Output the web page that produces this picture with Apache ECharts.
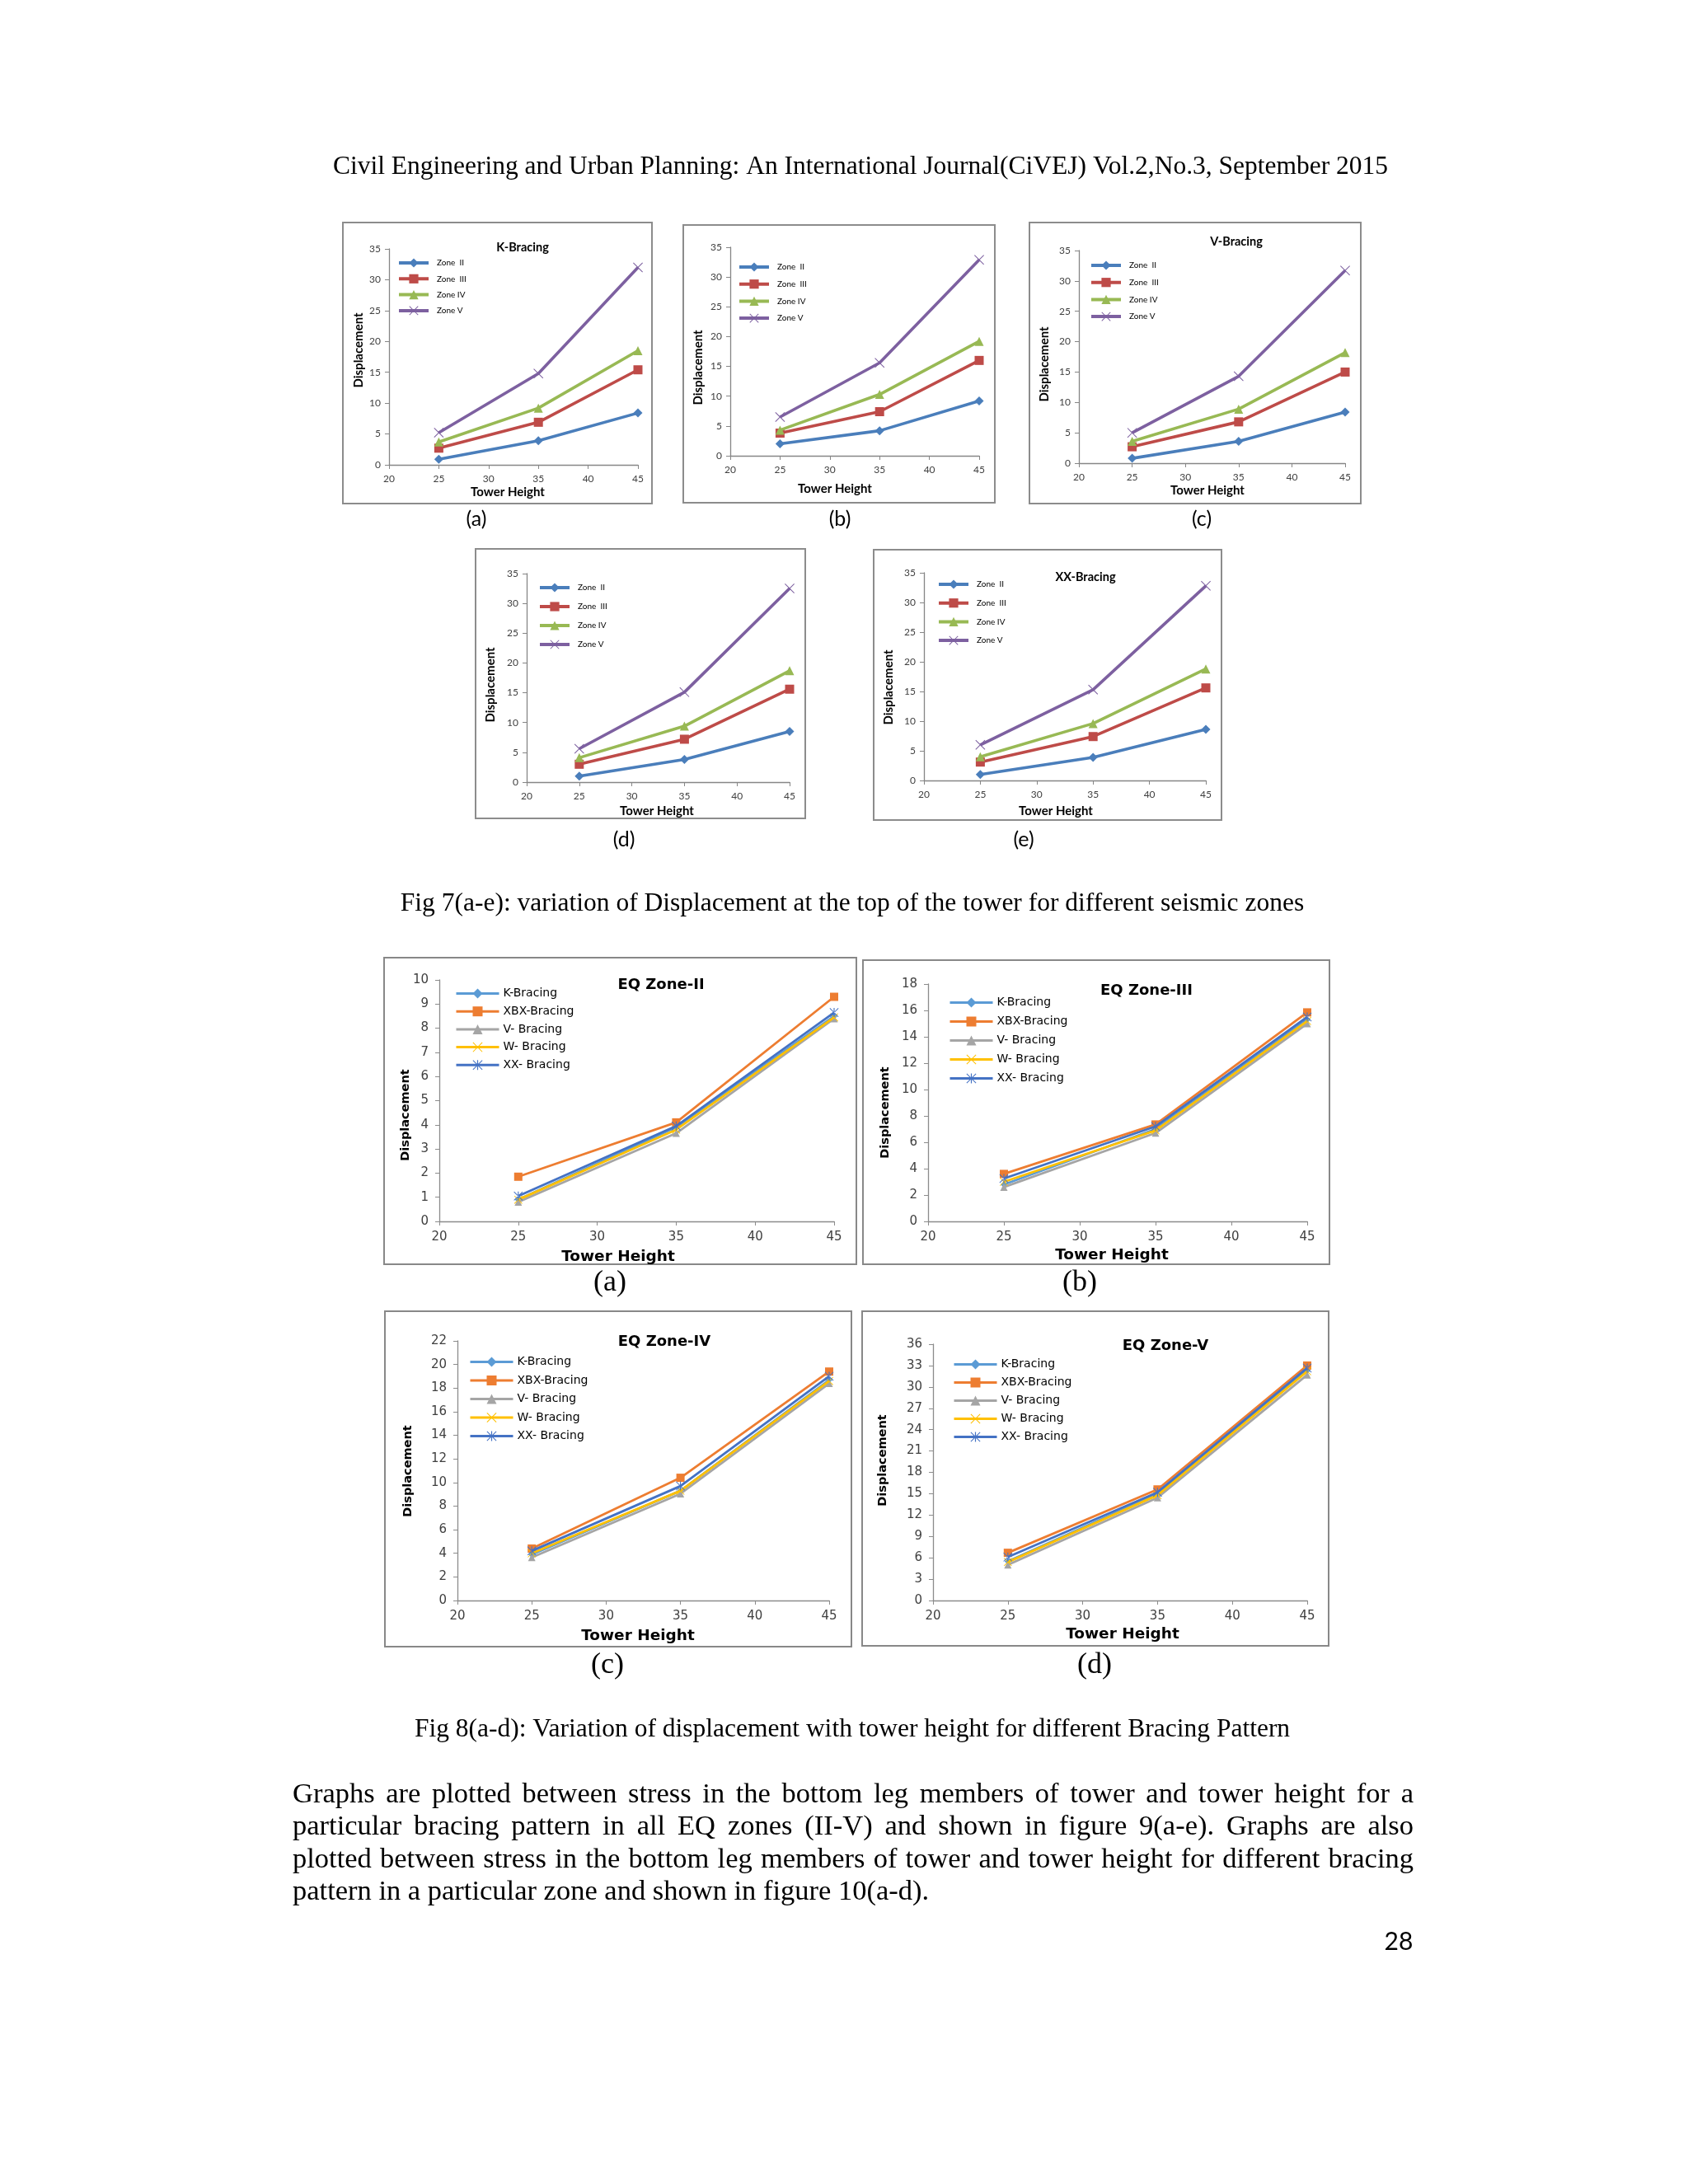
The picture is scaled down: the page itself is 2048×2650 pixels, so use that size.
<!DOCTYPE html>
<html>
<head>
<meta charset="utf-8">
<script src="https://cdn.jsdelivr.net/npm/echarts@6/dist/echarts.min.js"></script>
<style>
html,body{margin:0;padding:0;background:#fff;}
#chart{width:2048px;height:2650px;}
</style>
</head>
<body>
<div id="chart"></div>
<script>
// ---------------- DATA ----------------
const heights = [25, 35, 45];
const zoneNames = ['Zone  II', 'Zone  III', 'Zone IV', 'Zone V'];
const bracingNames = ['K-Bracing', 'XBX-Bracing', 'V- Bracing', 'W- Bracing', 'XX- Bracing'];

// Fig 7: rows = Zone II, III, IV, V ; values at heights 25, 35, 45
const fig7a = [[0.9, 3.9, 8.4], [2.7, 6.9, 15.4], [3.7, 9.2, 18.5], [5.2, 14.8, 32.0]];
const fig7b = [[2.0, 4.2, 9.2], [3.8, 7.4, 16.0], [4.3, 10.3, 19.2], [6.5, 15.6, 32.9]];
const fig7c = [[0.8, 3.6, 8.4], [2.7, 6.8, 15.0], [3.6, 8.9, 18.2], [5.0, 14.3, 31.7]];
const fig7d = [[1.0, 3.8, 8.5], [3.0, 7.2, 15.6], [4.1, 9.4, 18.7], [5.6, 15.1, 32.5]];
const fig7e = [[1.0, 3.9, 8.6], [3.1, 7.4, 15.6], [4.0, 9.6, 18.8], [6.0, 15.3, 32.8]];
const fig7Titles = ['K-Bracing', '', 'V-Bracing', '', 'XX-Bracing'];
const fig7Labels = ['(a)', '(b)', '(c)', '(d)', '(e)'];

// Fig 8: rows = K, XBX, V, W, XX bracing ; values at heights 25, 35, 45
const fig8a = [[0.9, 3.9, 8.5], [1.85, 4.1, 9.3], [0.8, 3.65, 8.4], [0.9, 3.8, 8.45], [1.05, 3.95, 8.65]];
const fig8b = [[2.8, 7.0, 15.3], [3.6, 7.35, 15.85], [2.6, 6.7, 15.0], [3.0, 6.9, 15.2], [3.25, 7.2, 15.5]];
const fig8c = [[3.9, 9.3, 18.7], [4.4, 10.4, 19.4], [3.65, 9.05, 18.4], [4.0, 9.3, 18.6], [4.2, 9.7, 19.0]];
const fig8d = [[5.5, 15.0, 32.3], [6.7, 15.6, 33.0], [5.0, 14.45, 31.7], [5.4, 14.8, 32.2], [6.1, 15.2, 32.65]];
const fig8Titles = ['EQ Zone-II', 'EQ Zone-III', 'EQ Zone-IV', 'EQ Zone-V'];
const fig8Labels = ['(a)', '(b)', '(c)', '(d)'];
const fig8YMax = [10, 18, 22, 36];
const fig8YStep = [1, 2, 2, 3];

const headerText = 'Civil Engineering and Urban Planning: An International Journal(CiVEJ) Vol.2,No.3, September 2015';
const caption7 = 'Fig 7(a-e): variation of Displacement at the top of the tower for different seismic zones';
const caption8 = 'Fig 8(a-d): Variation of displacement with tower height for different Bracing Pattern';
const paragraphLines = [
  'Graphs are plotted between stress in the bottom leg members of tower and tower height for a',
  'particular bracing pattern in all EQ zones (II-V) and shown in figure 9(a-e). Graphs are also',
  'plotted between stress in the bottom leg members of tower and tower height for different bracing',
  'pattern in a particular zone and shown in figure 10(a-d).'
];
const pageNumber = '28';

// ---------------- STYLE / LAYOUT ----------------
const X_PATH = 'path://M0.6,0 L5,4.4 L9.4,0 L10,0.6 L5.6,5 L10,9.4 L9.4,10 L5,5.6 L0.6,10 L0,9.4 L4.4,5 L0,0.6 Z';
const AST_PATH = 'path://M0.6,0 L5,4.4 L9.4,0 L10,0.6 L5.6,5 L10,9.4 L9.4,10 L5,5.6 L0.6,10 L0,9.4 L4.4,5 L0,0.6 Z M4.5,0 L4.5,10 L5.5,10 L5.5,0 Z';

const zoneStyles = [
  {color: '#4A7EBB', symbol: 'diamond', size: 11},
  {color: '#BE4B48', symbol: 'rect', size: 11},
  {color: '#98B954', symbol: 'triangle', size: 11},
  {color: '#7D60A0', symbol: X_PATH, size: 12}
];
const bracingStyles = [
  {color: '#5B9BD5', symbol: 'diamond', size: 8},
  {color: '#ED7D31', symbol: 'rect', size: 10},
  {color: '#A5A5A5', symbol: 'triangle', size: 9},
  {color: '#FFC000', symbol: X_PATH, size: 10},
  {color: '#4472C4', symbol: AST_PATH, size: 11}
];

const fig7Layout = [
  {box: [416, 270, 791, 611], grid: [472, 302, 302, 262], leg: [482, 312, 19.3], title: [634, 300], xn: [616, 597], yn: [435, 425], lab: [578, 630]},
  {box: [829, 273, 1207, 610], grid: [886, 300, 302, 253], leg: [895, 317, 20.7], title: [0, 0], xn: [1013, 593], yn: [847, 446], lab: [1019, 630]},
  {box: [1249, 270, 1651, 611], grid: [1309, 304, 323, 258], leg: [1322, 315, 20.7], title: [1500, 293], xn: [1465, 595], yn: [1267, 442], lab: [1458, 630]},
  {box: [577, 666, 977, 993], grid: [639, 696, 319, 253], leg: [653, 706, 23], title: [0, 0], xn: [797, 984], yn: [595, 831], lab: [757, 1019]},
  {box: [1060, 667, 1482, 995], grid: [1121, 695, 342, 252], leg: [1137, 702, 22.7], title: [1317, 700], xn: [1281, 984], yn: [1078, 834], lab: [1242, 1019]}
];
const fig8Layout = [
  {box: [466, 1162, 1039, 1534], grid: [533, 1189, 479, 293], leg: [552, 1198, 21.7], title: [802, 1195], xn: [750, 1525], yn: [492, 1353], lab: [740, 1557]},
  {box: [1047, 1165, 1613, 1534], grid: [1126, 1194, 460, 288], leg: [1151, 1209, 23], title: [1391, 1202], xn: [1349, 1523], yn: [1074, 1350], lab: [1310, 1557]},
  {box: [467, 1591, 1033, 1998], grid: [555, 1627, 451, 315], leg: [569, 1645, 22.5], title: [806, 1628], xn: [774, 1985], yn: [495, 1785], lab: [737, 2021]},
  {box: [1046, 1591, 1612, 1997], grid: [1132, 1631, 454, 311], leg: [1156, 1648, 22], title: [1414, 1633], xn: [1362, 1983], yn: [1071, 1772], lab: [1328, 2021]}
];

const F7 = 'Lato, "Open Sans", sans-serif';
const F8 = '"DejaVu Sans", sans-serif';
const SERIF = '"Liberation Serif", "Times New Roman", serif';

const grids = [], xAxes = [], yAxes = [], series = [], legends = [], graphics = [];

function addText(x, y, text, font, opts) {
  opts = opts || {};
  graphics.push({
    type: 'text', x: x, y: y, rotation: opts.rotation || 0, silent: true,
    style: {text: text, font: font, fill: opts.fill || '#000', align: opts.align || 'center', verticalAlign: opts.va || 'middle'}
  });
}
function addBox(b, stroke, lw) {
  graphics.push({type: 'rect', silent: true, shape: {x: b[0], y: b[1], width: b[2] - b[0], height: b[3] - b[1]},
    style: {fill: 'none', stroke: stroke, lineWidth: lw}});
}

function addPanel(L, rows, names, styles, cfg) {
  const idx = grids.length;
  grids.push({left: L.grid[0], top: L.grid[1], width: L.grid[2], height: L.grid[3], containLabel: false});
  xAxes.push({
    type: 'value', gridIndex: idx, min: 20, max: 45, interval: 5,
    axisLine: {show: true, lineStyle: {color: cfg.axisColor, width: 1.3}},
    axisTick: {show: true, inside: false, length: 5, lineStyle: {color: cfg.axisColor}},
    axisLabel: {fontFamily: cfg.font, fontSize: cfg.tickSize, color: cfg.tickColor, margin: cfg.xMargin},
    splitLine: {show: false}
  });
  yAxes.push({
    type: 'value', gridIndex: idx, min: 0, max: cfg.yMax, interval: cfg.yStep,
    axisLine: {show: true, lineStyle: {color: cfg.axisColor, width: 1.3}},
    axisTick: {show: true, inside: false, length: 5, lineStyle: {color: cfg.axisColor}},
    axisLabel: {fontFamily: cfg.font, fontSize: cfg.tickSize, color: cfg.tickColor, margin: cfg.yMargin},
    splitLine: {show: false}
  });
  rows.forEach((vals, i) => {
    const st = styles[i];
    series.push({
      type: 'line', name: names[i], xAxisIndex: idx, yAxisIndex: idx,
      data: heights.map((h, j) => [h, vals[j]]),
      symbol: st.symbol, symbolSize: st.size, showSymbol: true,
      lineStyle: {color: st.color, width: cfg.lineWidth},
      itemStyle: {color: st.color},
      emphasis: {disabled: true}, z: 2 + i, animation: false
    });
  });
  legends.push({
    orient: 'vertical', left: L.leg[0], top: L.leg[1],
    itemWidth: cfg.legW, itemHeight: cfg.legH, itemGap: L.leg[2] - cfg.legH,
    data: names, selectedMode: false, padding: 0,
    lineStyle: {width: cfg.legLine},
    textStyle: {fontFamily: cfg.font, fontSize: cfg.legFont, lineHeight: cfg.legH, color: '#000', padding: [0, 0, 0, cfg.legPad]}
  });
  addBox(L.box, cfg.boxColor, cfg.boxWidth);
  if (cfg.title) addText(L.title[0], L.title[1], cfg.title, 'bold ' + cfg.titleSize + 'px ' + cfg.font);
  addText(L.xn[0], L.xn[1], 'Tower Height', 'bold ' + cfg.nameSize + 'px ' + cfg.font);
  addText(L.yn[0], L.yn[1], 'Displacement', 'bold ' + cfg.yNameSize + 'px ' + cfg.font, {rotation: Math.PI / 2});
  addText(L.lab[0], L.lab[1], cfg.label, cfg.labelFont);
}

const fig7Data = [fig7a, fig7b, fig7c, fig7d, fig7e];
fig7Data.forEach((rows, k) => {
  addPanel(fig7Layout[k], rows, zoneNames, zoneStyles, {
    axisColor: '#868686', font: F7, tickSize: 12, tickColor: '#404040', xMargin: 11, yMargin: 10,
    yMax: 35, yStep: 5, lineWidth: 3.6, legW: 36, legH: 14, legFont: 10, legPad: 5, legLine: 4,
    boxColor: '#8c8c8c', boxWidth: 2, title: fig7Titles[k], titleSize: 14.5, nameSize: 15, yNameSize: 15,
    label: fig7Labels[k], labelFont: '25px ' + F7
  });
});
const fig8Data = [fig8a, fig8b, fig8c, fig8d];
fig8Data.forEach((rows, k) => {
  addPanel(fig8Layout[k], rows, bracingNames, bracingStyles, {
    axisColor: '#8c8c8c', font: F8, tickSize: 15, tickColor: '#404040', xMargin: 12, yMargin: 13,
    yMax: fig8YMax[k], yStep: fig8YStep[k], lineWidth: 2.8, legW: 52, legH: 15, legFont: 14, legPad: 0, legLine: 3,
    boxColor: '#888888', boxWidth: 2, title: fig8Titles[k], titleSize: 18, nameSize: 18.5, yNameSize: 14.5,
    label: fig8Labels[k], labelFont: '36px ' + SERIF
  });
});

// Page texts
const headFont = '31.5px ' + SERIF;
const bodyFont = '34.5px ' + SERIF;
addText(1044, 203, headerText, headFont);
addText(1034, 1097, caption7, headFont);
addText(1034, 2099, caption8, headFont);
addText(1697, 2356, pageNumber, '30px ' + F7);

// justified paragraph
const measureCtx = document.createElement('canvas').getContext('2d');
measureCtx.font = bodyFont;
const paraLeft = 355, paraRight = 1715, paraTop = 2178, paraStep = 39.4;
paragraphLines.forEach((line, li) => {
  const y = paraTop + li * paraStep;
  if (li === paragraphLines.length - 1) {
    addText(paraLeft, y, line, bodyFont, {align: 'left'});
    return;
  }
  const words = line.split(' ');
  const widths = words.map(w => measureCtx.measureText(w).width);
  const total = widths.reduce((a, b) => a + b, 0);
  const gap = (paraRight - paraLeft - total) / (words.length - 1);
  let x = paraLeft;
  words.forEach((w, i) => {
    addText(x, y, w, bodyFont, {align: 'left'});
    x += widths[i] + gap;
  });
});

const chart = echarts.init(document.getElementById('chart'), null, {renderer: 'canvas'});
chart.setOption({
  animation: false,
  backgroundColor: '#ffffff',
  grid: grids,
  xAxis: xAxes,
  yAxis: yAxes,
  legend: legends,
  series: series,
  graphic: {elements: graphics}
});
</script>
</body>
</html>
